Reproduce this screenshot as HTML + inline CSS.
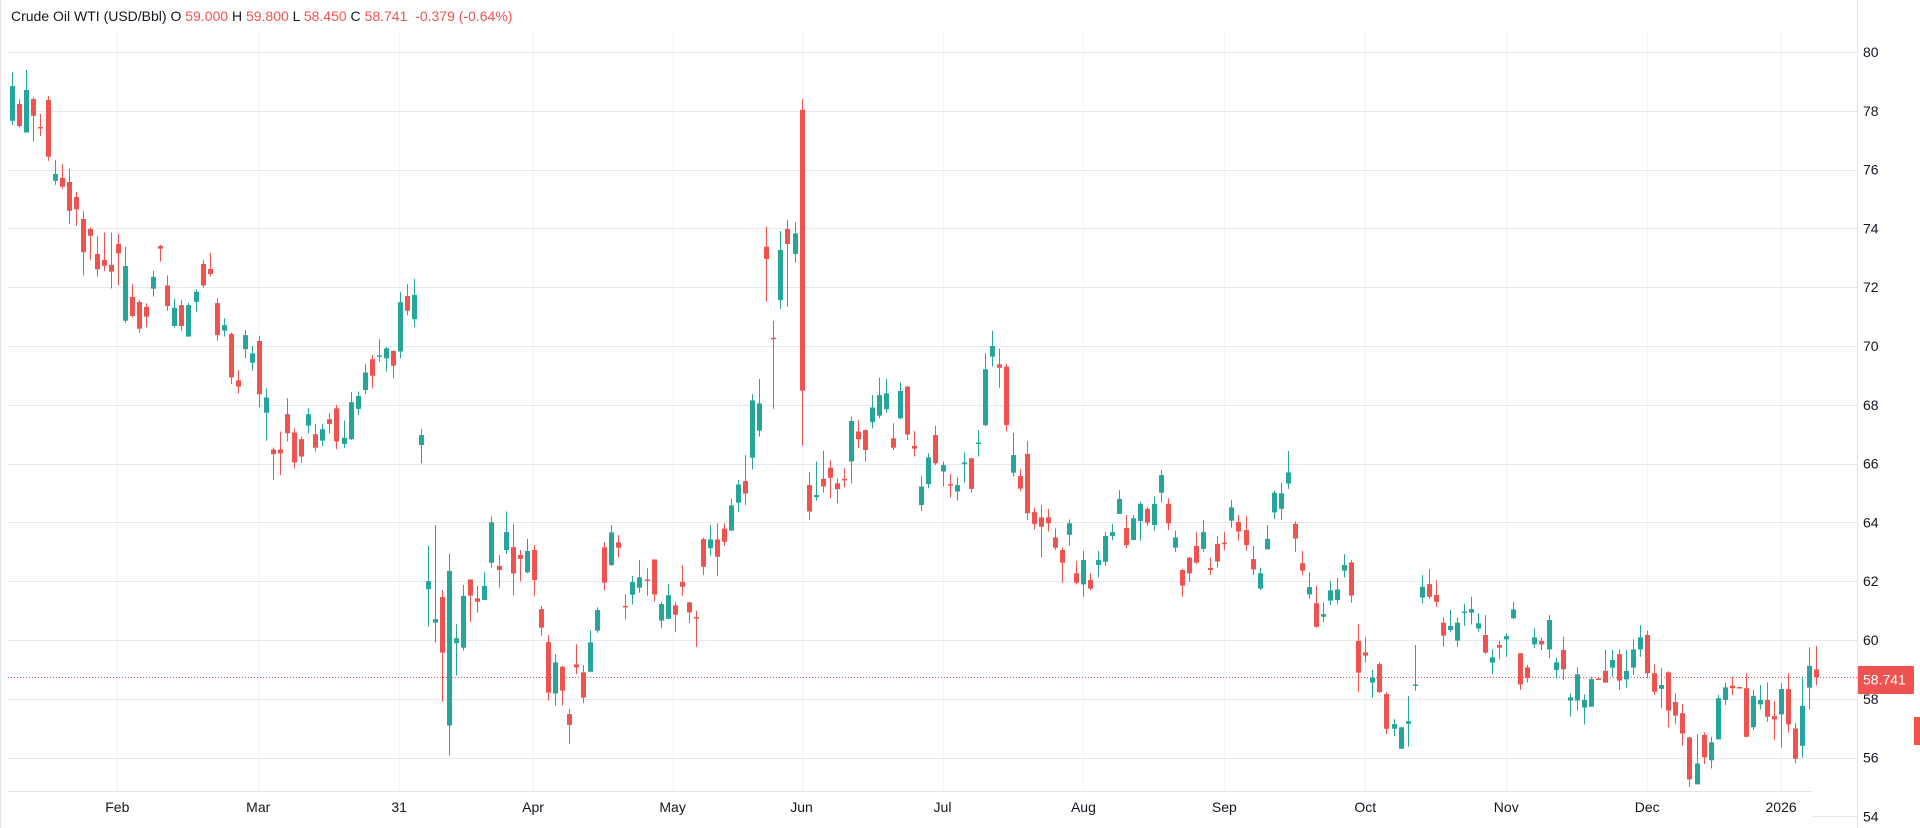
<!DOCTYPE html>
<html><head><meta charset="utf-8">
<style>
html,body{margin:0;padding:0;background:#fff;width:1920px;height:828px;overflow:hidden;}
#hdr{position:absolute;left:11px;top:8px;font-family:"Liberation Sans",sans-serif;font-size:14px;color:#131722;white-space:pre;}
#hdr .v{color:#ef5350;}
svg{position:absolute;left:0;top:0;}
</style></head>
<body>
<div id="hdr">Crude Oil WTI (USD/Bbl) O <span class="v">59.000</span> H <span class="v">59.800</span> L <span class="v">58.450</span> C <span class="v">58.741</span>  <span class="v">-0.379 (-0.64%)</span></div>
<svg id="chart" width="1920" height="828"></svg>
<script>
const opens=[77.66,78.23,77.26,78.40,77.45,78.37,75.62,75.72,75.58,75.07,74.32,73.98,73.13,72.93,72.76,73.47,70.86,71.67,71.50,71.33,71.95,73.40,72.06,70.68,71.39,70.32,71.50,72.79,72.62,71.46,70.52,70.41,68.83,69.89,69.43,70.17,67.73,66.48,66.48,67.68,67.06,66.83,67.29,67.00,66.78,67.51,67.88,66.67,66.83,67.86,68.50,69.55,69.66,69.58,69.83,69.81,71.70,70.91,66.63,61.73,60.59,61.46,57.09,59.89,59.74,62.06,61.42,61.36,62.63,62.52,63.06,63.16,62.89,62.30,63.06,61.05,59.93,58.18,59.09,57.48,59.17,58.90,58.92,60.32,63.15,62.55,63.32,61.16,61.54,61.78,62.06,62.74,60.66,60.72,61.18,61.97,61.28,60.78,63.43,63.12,63.42,63.79,63.72,64.67,65.41,66.20,67.12,73.38,70.28,71.56,73.98,73.13,78.03,65.27,64.86,65.48,65.86,65.33,65.48,66.07,67.09,67.14,67.41,67.63,67.85,66.86,67.54,68.62,66.60,64.59,65.30,66.97,65.73,65.30,65.05,65.98,66.18,66.70,67.31,69.64,69.38,69.30,65.69,65.58,66.33,64.35,64.17,64.17,63.49,63.06,63.58,62.27,61.89,62.04,62.55,62.66,63.54,64.29,63.81,63.40,64.05,64.46,63.91,65.01,64.63,63.14,62.38,62.80,63.20,63.10,62.45,63.27,63.31,64.06,64.01,63.74,62.75,61.75,63.08,64.34,64.46,65.32,63.95,62.61,61.55,61.25,60.79,61.34,61.36,62.36,62.64,59.97,59.58,58.55,59.18,58.16,56.98,56.30,57.15,58.46,61.44,61.90,61.53,60.59,60.34,59.98,60.94,60.93,60.39,60.17,59.23,59.83,60.02,60.74,59.55,59.07,59.85,59.97,59.68,58.98,59.66,57.94,57.94,57.70,57.73,58.69,58.95,59.06,59.52,58.66,59.06,59.68,60.17,58.87,58.34,58.90,57.89,57.51,56.69,55.09,56.77,55.91,56.62,57.96,58.45,58.40,58.36,57.03,57.81,57.96,57.41,57.47,58.33,56.99,56.40,58.38,59.00];
const highs=[79.30,78.39,79.39,78.46,77.89,78.50,76.33,76.19,76.03,75.24,74.59,74.04,73.74,73.86,73.86,73.81,73.38,72.11,71.57,71.45,72.56,73.44,72.40,71.60,71.57,71.47,71.93,72.93,73.17,71.63,70.95,70.45,69.18,70.54,70.00,70.35,68.56,66.55,67.09,68.22,67.20,66.92,67.88,67.35,67.35,67.71,68.00,67.46,68.43,68.45,69.39,69.69,70.23,69.98,69.86,71.83,72.11,72.28,67.18,63.21,63.91,61.70,62.93,60.54,61.87,62.06,61.84,62.31,64.20,62.89,64.37,63.95,63.06,63.44,63.23,61.16,60.17,59.52,59.12,57.65,59.86,59.15,60.32,61.11,63.34,63.91,63.57,61.55,62.18,62.72,62.44,62.74,61.30,61.90,61.29,62.54,61.30,61.00,63.48,63.91,63.97,63.97,64.80,65.44,66.29,68.36,68.88,74.06,70.86,73.91,74.29,74.20,78.40,65.72,66.07,66.44,66.12,65.50,65.84,67.60,67.48,67.17,68.33,68.92,68.88,67.37,68.76,68.64,67.11,65.58,66.35,67.28,66.07,65.64,65.53,66.38,66.20,67.14,69.75,70.52,69.92,69.39,67.05,65.82,66.77,64.50,64.59,64.46,63.80,63.14,64.10,62.69,63.03,62.27,63.03,63.68,63.95,65.10,64.25,64.25,64.71,64.54,64.88,65.78,64.82,63.72,62.41,62.83,63.68,64.08,62.80,63.54,63.68,64.76,64.25,64.22,63.20,62.46,63.91,65.08,65.35,66.43,64.03,63.03,62.30,61.84,61.28,62.01,62.12,62.92,62.72,60.54,60.09,58.98,59.24,58.23,57.31,57.05,58.09,59.83,62.21,62.41,62.04,60.77,61.02,60.77,61.23,61.47,60.91,60.85,59.69,59.98,60.23,61.30,59.55,59.15,60.40,60.09,60.85,59.41,60.11,58.19,59.07,58.15,58.75,58.70,59.66,59.66,59.68,59.66,60.02,60.51,60.32,59.17,59.04,58.94,58.19,57.82,56.71,56.80,56.86,56.71,58.13,58.55,58.75,58.41,58.87,58.30,58.47,58.56,57.92,58.53,58.87,57.17,58.75,59.75,59.80];
const lows=[77.52,77.43,77.26,76.95,77.14,76.30,75.48,75.36,74.15,74.09,72.40,72.93,72.36,72.55,71.96,72.07,70.79,70.97,70.45,70.64,71.68,72.87,71.20,70.62,70.52,70.32,71.17,71.98,72.36,70.18,70.32,68.71,68.39,69.58,69.16,67.92,66.78,65.44,65.61,66.75,65.84,66.03,67.03,66.41,66.60,67.03,66.49,66.54,66.80,67.65,68.37,68.56,69.47,69.13,68.90,69.58,71.05,70.64,66.01,60.45,59.91,57.90,56.07,58.79,59.64,60.62,60.93,61.36,62.46,61.78,62.93,61.53,62.00,62.27,61.50,60.14,57.94,57.77,57.77,56.46,58.84,57.85,58.92,60.25,61.68,62.52,62.80,60.70,61.21,61.61,61.51,61.30,60.40,60.72,60.28,61.50,60.57,59.77,62.21,62.86,62.18,63.20,63.72,64.36,64.59,65.80,66.92,71.51,67.86,71.26,71.34,72.83,66.61,64.08,64.74,65.01,64.82,64.65,65.19,65.33,66.54,66.07,67.20,67.54,67.73,66.46,67.52,66.80,66.24,64.39,65.16,65.95,65.22,64.84,64.74,65.35,65.01,66.24,67.26,69.30,68.58,67.09,65.55,65.05,64.08,63.75,62.81,63.69,63.06,61.95,63.21,61.89,61.47,61.68,62.13,62.52,63.40,64.29,63.12,63.40,63.38,63.88,63.72,64.67,63.74,63.00,61.47,61.98,62.57,63.00,62.21,62.46,63.06,63.82,63.38,63.04,62.21,61.70,63.08,64.12,64.08,65.14,63.00,62.21,61.40,60.42,60.61,61.19,61.22,62.12,61.27,58.24,59.23,58.04,58.19,56.80,56.73,56.30,56.37,58.27,61.25,61.39,61.13,59.77,60.28,59.77,60.48,60.53,60.28,59.53,58.84,59.34,59.43,60.71,58.30,58.55,59.72,59.66,59.38,58.69,58.64,57.39,57.60,57.13,57.73,58.65,58.55,58.75,58.30,58.38,58.81,59.43,58.70,58.13,57.68,57.03,57.14,56.40,55.01,55.09,55.78,55.63,56.62,57.79,58.13,58.38,56.69,56.94,57.64,57.22,56.60,56.34,56.85,55.81,56.00,57.64,58.45];
const closes=[78.84,77.48,78.71,77.83,77.40,76.44,75.85,75.42,74.60,74.65,73.19,73.75,72.61,72.73,72.53,73.15,72.72,71.02,70.59,71.00,72.35,73.31,71.36,71.30,70.68,71.39,71.84,72.06,72.45,70.37,70.71,68.93,68.62,70.37,69.75,68.36,68.25,66.32,66.35,67.03,66.04,66.24,67.68,66.54,67.17,67.35,66.75,66.88,68.09,68.30,69.10,68.99,69.68,69.92,69.33,71.49,71.20,71.74,66.97,62.00,60.71,59.57,62.35,60.06,61.50,61.51,61.30,61.84,64.00,62.38,63.67,62.26,62.76,63.03,62.04,60.42,58.21,59.24,58.28,57.11,59.07,58.04,59.92,61.02,61.95,63.66,63.14,61.12,61.97,62.13,62.02,61.55,61.22,61.52,60.86,61.81,60.94,60.76,62.49,63.42,62.83,63.34,64.58,65.29,64.98,68.15,68.05,72.96,70.24,73.27,73.47,73.83,68.48,64.37,64.93,65.22,65.52,65.13,65.46,67.45,66.83,66.46,67.91,68.33,68.39,66.54,68.47,66.99,66.51,65.22,66.21,66.01,65.95,65.28,65.27,66.04,65.14,66.72,69.21,70.00,69.26,67.31,66.29,65.15,64.31,63.95,63.85,63.97,63.14,62.63,63.97,61.95,62.72,61.75,62.72,63.54,63.67,64.80,63.23,64.14,64.63,63.99,64.63,65.61,63.97,63.49,61.85,62.27,62.63,63.67,62.38,62.67,63.28,64.51,63.69,63.23,62.40,62.27,63.44,65.01,64.99,65.70,63.45,62.36,61.80,60.45,60.88,61.69,61.72,62.55,61.51,58.89,59.47,58.72,58.23,56.98,57.14,57.03,57.24,58.49,61.81,61.47,61.30,60.15,60.48,60.59,60.97,61.05,60.57,59.57,59.41,59.74,60.13,61.04,58.49,58.70,60.09,59.85,60.68,59.24,59.00,58.05,58.83,57.96,58.67,58.67,58.55,59.32,58.62,58.95,59.68,60.09,58.87,58.24,58.47,57.60,57.43,56.82,55.26,55.80,56.01,56.52,58.02,58.39,58.36,58.39,56.71,58.10,57.96,57.39,57.30,58.33,57.13,55.96,57.76,59.12,58.741];
const priceTicks=[80,78,76,74,72,70,68,66,64,62,60,58,56,54];
const timeLabels=["Feb","Mar","31","Apr","May","Jun","Jul","Aug","Sep","Oct","Nov","Dec","2026"];
const timeIdx=[14.9,34.9,54.9,73.9,93.7,112,132,152,172,192,212,232,251];
const lastPrice=58.741;

const NS="http://www.w3.org/2000/svg";
const svg=document.getElementById('chart');
const X0=12.3, STEP=7.047, Y80=52, PPU=29.4;
function xs(i){return X0+i*STEP;}
function ys(p){return Y80+(80-p)*PPU;}
function mk(tag,attrs,parent){const e=document.createElementNS(NS,tag);for(const k in attrs)e.setAttribute(k,attrs[k]);(parent||svg).appendChild(e);return e;}

const grid=mk('g',{});


timeIdx.forEach((t,k)=>{
  const x=Math.round(xs(t))+0.5;
  const l=mk('line',{x1:x,x2:x,y1:30,y2:791,stroke:'#f0f3fa','stroke-width':1},grid);
  
  
});
priceTicks.forEach(p=>{
  const y=Math.round(ys(p))+0.5;
  const x1=p===54?1812:8;
  const l=mk('line',{x1:x1,x2:1857,y1:y,y2:y,stroke:'#e6e8ee','stroke-width':1},grid);
  
  
});
const lb=mk('line',{x1:0.5,x2:0.5,y1:0,y2:828,stroke:'#e6e8ee','stroke-width':1});


const ta=mk('line',{x1:8,x2:1812,y1:791.5,y2:791.5,stroke:'#e0e3eb','stroke-width':1});


const pa=mk('line',{x1:1857.5,x2:1857.5,y1:0,y2:828,stroke:'#e0e3eb','stroke-width':1});



// last price dotted line
const ly=Math.round(ys(lastPrice))+0.5;
const pl=mk('line',{x1:8,x2:1857,y1:ly,y2:ly,stroke:'#ef5350','stroke-width':1,'stroke-dasharray':'1 2'});



const cg=mk('g',{});


for(let i=0;i<opens.length;i++){
  const o=opens[i],h=highs[i],l=lows[i],c=closes[i];
  const col=c>=o?'#26a69a':'#ef5350';
  const x=Math.round(xs(i));
  const g=mk('g',{},cg);
  
  
  mk('rect',{x:x,y:ys(h),width:1,height:Math.max(1,ys(l)-ys(h)),fill:col},g);
  const top=ys(Math.max(o,c)),bot=ys(Math.min(o,c));
  mk('rect',{x:x-2,y:top,width:5,height:Math.max(1.5,bot-top),fill:col},g);
}

// price axis labels
priceTicks.forEach(p=>{
  const t=mk('text',{x:1863,y:ys(p)+5,'font-family':'Liberation Sans, sans-serif','font-size':14,fill:'#131722'});
  t.textContent=p;
  
  
});
// time labels
timeLabels.forEach((s,k)=>{
  const t=mk('text',{x:xs(timeIdx[k]),y:812,'text-anchor':'middle','font-family':'Liberation Sans, sans-serif','font-size':14,fill:'#131722'});
  t.textContent=s;
  
  
});
// last price badge
const bg=mk('g',{});


mk('rect',{x:1858,y:ly-11.5,width:56,height:28,fill:'#ef5350'},bg);
const bt=mk('text',{x:1863,y:ly+7,'font-family':'Liberation Sans, sans-serif','font-size':14,fill:'#ffffff'},bg);
bt.textContent=lastPrice.toFixed(3);
const sm=mk('rect',{x:1914,y:717,width:6,height:28,fill:'#ef5350'});


</script>
</body></html>
